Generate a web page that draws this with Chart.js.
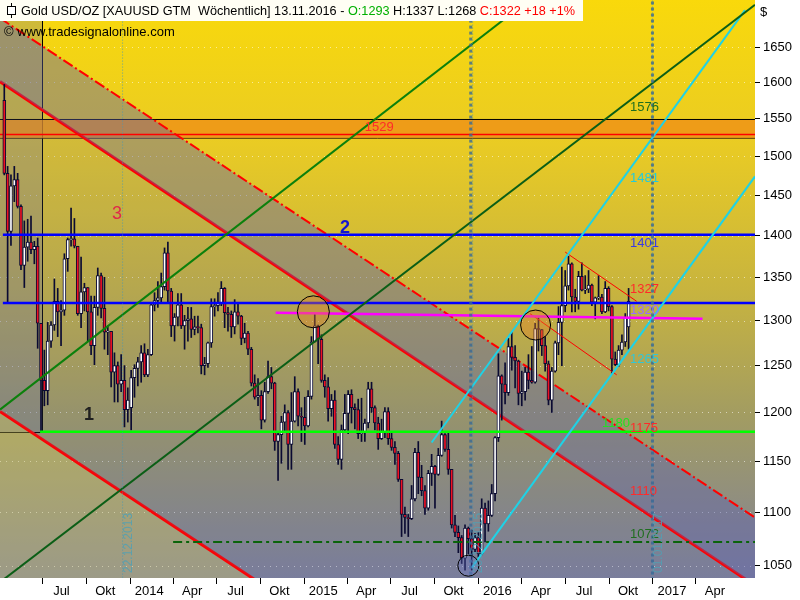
<!DOCTYPE html>
<html>
<head>
<meta charset="utf-8">
<script src="https://cdn.jsdelivr.net/npm/chart.js@4.4.1/dist/chart.umd.min.js"></script>
<style>
  html, body { margin: 0; padding: 0; background: #fff; }
</style>
</head>
<body>
<canvas id="graph" width="800" height="600"></canvas>
<script>
const FONTE = '"Liberation Sans", Arial, sans-serif';
const D0 = Date.UTC(2014, 0, 1);
function dia(s) {
    const p = s.split('-').map(Number);
    return (Date.UTC(p[0], p[1] - 1, p[2]) - D0) / 864e5;
}

// Dados semanais (XAUUSD), primeira vela = semana de 12.04.2013
const firstWeek = '2013-04-12';
const opens = [
    1575,1478,1405,1462,1470,1436,1364,1386,1392,1383,1387,1297,1234,1223,1277,1295,1322,1310,1312,1372,1395,1396,1387,1308,1333,1338,1310,1272,1315,1352,1314,1287,1288,1243,1250,1230,1234,1203,
    1205,1237,1247,1254,1264,1240,1262,1318,1323,1326,1339,1379,1334,1294,1304,1318,1294,1300,1302,1290,1293,1292,1250,1252,1275,1316,1317,1320,1337,1309,1307,1293,1310,1305,1280,1286,1268,1231,1216,1218,1192,1222,1238,1231,1170,1177,1190,1200,1167,1191,1222,1196,
    1195,1186,1217,1276,1294,1279,1234,1227,1204,1213,1167,1152,1182,1199,1219,1205,1203,1178,1179,1189,1225,1205,1189,1173,1180,1201,1173,1164,1158,1132,1098,1095,1094,1113,1159,1134,1121,1104,1138,1145,1137,1156,1177,1162,1142,1088,1081,1076,1057,1085,1075,1065,
    1076,1061,1104,1089,1097,1118,1174,1239,1230,1221,1271,1259,1255,1220,1222,1243,1234,1232,1291,1290,1272,1252,1213,1244,1275,1298,1317,1340,1366,1327,1322,1351,1335,1336,1341,1321,1326,1327,1310,1337,1316,1257,1251,1267,1276,1293
];
const highs = [
    1597,1487,1476,1487,1478,1438,1418,1420,1424,1393,1397,1297,1267,1298,1299,1348,1337,1323,1378,1397,1434,1421,1387,1374,1343,1338,1328,1328,1361,1355,1350,1294,1288,1264,1254,1262,1250,1226,
    1245,1251,1259,1272,1274,1268,1320,1332,1345,1355,1385,1392,1337,1308,1331,1331,1306,1315,1315,1305,1305,1296,1259,1276,1325,1325,1332,1345,1338,1315,1311,1324,1321,1306,1297,1288,1270,1240,1236,1223,1232,1255,1248,1232,1180,1196,1208,1202,1221,1238,1225,1205,
    1216,1223,1282,1307,1295,1284,1240,1237,1219,1223,1175,1187,1219,1223,1224,1209,1214,1215,1193,1232,1232,1207,1195,1193,1205,1205,1180,1170,1160,1132,1105,1098,1126,1163,1170,1146,1126,1141,1157,1146,1163,1191,1178,1180,1142,1097,1087,1078,1088,1086,1083,1080,
    1081,1113,1109,1111,1127,1175,1263,1240,1253,1280,1287,1272,1256,1244,1248,1262,1271,1297,1303,1290,1282,1255,1248,1277,1316,1362,1358,1375,1367,1336,1357,1367,1352,1358,1342,1327,1352,1330,1345,1339,1317,1265,1272,1284,1308,1337
];
const lows = [
    1476,1321,1388,1442,1434,1359,1338,1369,1378,1366,1269,1180,1207,1208,1270,1289,1282,1272,1306,1357,1387,1385,1306,1292,1311,1277,1262,1251,1306,1303,1268,1262,1227,1211,1211,1222,1185,1190,
    1182,1216,1228,1232,1238,1238,1261,1311,1315,1321,1335,1321,1282,1277,1294,1291,1268,1277,1281,1284,1286,1241,1240,1248,1270,1305,1311,1317,1292,1288,1281,1285,1296,1273,1275,1262,1228,1214,1207,1183,1190,1220,1225,1161,1131,1148,1180,1142,1142,1190,1186,1170,
    1167,1185,1214,1276,1252,1232,1216,1191,1196,1163,1147,1142,1180,1178,1189,1183,1173,1170,1170,1184,1200,1182,1162,1172,1174,1167,1161,1147,1130,1077,1080,1077,1093,1111,1118,1116,1098,1102,1126,1104,1136,1155,1160,1137,1085,1077,1062,1052,1046,1061,1046,1063,
    1058,1060,1072,1082,1096,1111,1170,1192,1209,1218,1245,1226,1208,1207,1213,1225,1231,1231,1266,1261,1244,1208,1200,1243,1262,1250,1310,1335,1310,1310,1313,1334,1331,1332,1317,1302,1324,1308,1309,1311,1241,1250,1249,1262,1271,1268
];
const closes = [
    1478,1405,1462,1470,1436,1364,1386,1392,1383,1387,1297,1234,1223,1277,1295,1322,1310,1312,1372,1395,1396,1387,1308,1333,1338,1310,1272,1315,1352,1314,1287,1288,1243,1250,1230,1234,1203,1213,
    1237,1247,1254,1264,1240,1262,1318,1323,1326,1339,1379,1334,1294,1304,1318,1294,1300,1302,1290,1293,1292,1250,1252,1275,1316,1317,1320,1337,1309,1307,1293,1310,1305,1280,1286,1268,1231,1216,1218,1192,1222,1238,1231,1170,1177,1190,1200,1167,1191,1222,1196,1195,
    1186,1217,1276,1294,1279,1234,1227,1204,1213,1167,1152,1182,1199,1219,1205,1203,1178,1179,1189,1225,1205,1189,1173,1180,1201,1173,1164,1158,1132,1098,1095,1094,1113,1159,1134,1121,1104,1138,1145,1137,1156,1177,1162,1142,1088,1081,1076,1057,1085,1075,1065,1076,
    1061,1104,1089,1097,1118,1174,1239,1230,1221,1271,1259,1255,1220,1222,1243,1234,1232,1291,1290,1272,1252,1213,1244,1275,1298,1317,1340,1366,1327,1322,1351,1335,1336,1341,1321,1326,1327,1310,1337,1316,1257,1251,1267,1276,1304,1322
];

// Eixos
const xStart = '2013-04-03';
const xEnd = '2017-08-03';
const tickDates = ['2013-07-01','2013-10-01','2014-01-01','2014-04-01','2014-07-01','2014-10-01','2015-01-01','2015-04-01',
                   '2015-07-01','2015-10-01','2016-01-01','2016-04-01','2016-07-01','2016-10-01','2017-01-01','2017-04-01'];
const tickLabels = ['Jul','Okt','2014','Apr','Jul','Okt','2015','Apr','Jul','Okt','2016','Apr','Jul','Okt','2017','Apr'];
const yTicks = [1050,1100,1150,1200,1250,1300,1350,1400,1450,1500,1550,1600,1650];
const yMin = 1038.8, yMax = 1719;

// Linhas desenhadas (data, preço)
const redDashDot = [[xStart, 1692], [xEnd, 1095]];
const redUpper = [[xStart, 1601], [xEnd, 1032]];
const redLower = [[xStart, 1201], [xEnd, 778]];
const greenUpper = [[xStart, 1203], [xEnd, 2002]];
const greenLower = [[xStart, 1035], [xEnd, 1712]];
const cyanUpper = [['2015-09-25', 1169], ['2017-07-13', 1704]];
const cyanLower = [['2015-12-18', 1048], [xEnd, 1474]];
const thinRedA = [['2016-07-01', 1380], ['2016-11-28', 1322]];
const thinRedB = [['2016-04-18', 1308], ['2016-10-17', 1240]];
const magenta = [['2014-11-02', 1309], ['2017-04-15', 1302]];
const level1401 = [['2013-04-09', 1401], [xEnd, 1401]];
const level1320 = [['2013-04-09', 1320], [xEnd, 1320]];
const band1549 = [[xStart, 1549], [xEnd, 1549]];
const band1524 = [[xStart, 1524], [xEnd, 1524]];
const level1529 = [[xStart, 1529], [xEnd, 1529]];
const level1180 = [['2013-06-26', 1180], [xEnd, 1180]];
const level1072 = [['2014-04-01', 1072], [xEnd, 1072]];
const dashedDates = ['2015-12-16', '2016-12-31'];
const dottedDates = ['2013-12-16', '2015-12-20', '2016-12-31'];
const dottedTexts = ['22.12.2013', '20.12.2015', '01.01.2017'];
const boxRange = [xStart, '2013-07-01', 1180];

// Círculos
const circleDates = ['2015-01-20', '2016-04-30', '2015-12-11'];
const circlePrices = [1310, 1295, 1050];
const circleRadius = [16, 15, 10.5];

// Rótulos no gráfico
const notas = [
    { t: '1576', d: '2016-11-14', p: 1565, c: '#1f6e1f' },
    { t: '1529', d: '2015-05-08', p: 1539, c: '#ff2a2a' },
    { t: '1481', d: '2016-11-14', p: 1471, c: '#22cadc' },
    { t: '1401', d: '2016-11-14', p: 1391, c: '#3a3ae6' },
    { t: '1327', d: '2016-11-14', p: 1336, c: '#ff2a2a' },
    { t: '1320', d: '2016-11-14', p: 1312, c: '#9a6cff' },
    { t: '1265', d: '2016-11-14', p: 1257, c: '#30c6d8' },
    { t: '1180', d: '2016-09-16', p: 1189, c: '#22e022' },
    { t: '1175', d: '2016-11-14', p: 1183, c: '#ff2a2a' },
    { t: '1110', d: '2016-11-14', p: 1120, c: '#ff2a2a' },
    { t: '1072', d: '2016-11-14', p: 1079, c: '#1f6e1f' },
    { t: '1', d: '2013-09-26', p: 1197, c: '#202020', f: 'bold 18px ' + FONTE },
    { t: '2', d: '2015-03-17', p: 1409, c: '#1414d2', f: 'bold 18px ' + FONTE },
    { t: '3', d: '2013-11-24', p: 1426, c: '#e0284a', f: '18px ' + FONTE }
];

function pts(arr) { return arr.map(p => ({ x: dia(p[0]), y: p[1] })); }
function linha(arr, cor, largura, extra) {
    return Object.assign({
        type: 'line', data: pts(arr), borderColor: cor, borderWidth: largura,
        pointRadius: 0, fill: false, tension: 0, order: 15
    }, extra || {});
}
function semPadding(s) {
    s.paddingTop = 0; s.paddingBottom = 0; s.paddingLeft = 0; s.paddingRight = 0;
}

const candleDays = opens.map((_, i) => dia(firstWeek) + 7 * i);

const datasets = [];
// Faixa laranja
datasets.push(linha(band1549, '#000', 1, { fill: 1, backgroundColor: 'rgba(238,142,22,0.78)', order: 60 }));
datasets.push(linha(band1524, '#000', 1, { order: 60 }));
// Canal vermelho
datasets.push(linha(redDashDot, '#ff0000', 2, { borderDash: [11, 3, 2, 3], fill: 3, backgroundColor: 'rgba(90,95,175,0.42)', order: 54 }));
datasets.push(linha(redUpper, '#ff0000', 3, { fill: 4, backgroundColor: 'rgba(90,100,170,0.16)', order: 56 }));
datasets.push(linha(redLower, '#ff0000', 3, { fill: 'start', backgroundColor: 'rgba(215,205,95,0.32)', order: 58 }));
// Linhas
datasets.push(linha(level1529, '#ff0000', 1.5, { order: 50 }));
datasets.push(linha(greenUpper, '#0c800c', 2));
datasets.push(linha(greenLower, '#0b5e16', 2));
datasets.push(linha(cyanUpper, '#1ed2e6', 2));
datasets.push(linha(cyanLower, '#1ed2e6', 2));
datasets.push(linha(level1401, '#0000ff', 2.5));
datasets.push(linha(level1320, '#0000ff', 2.5));
datasets.push(linha(level1180, '#00ff00', 2.5));
datasets.push(linha(level1072, '#0a640a', 2, { borderDash: [9, 4, 3, 4] }));
datasets.push(linha(magenta, '#ff00ff', 2.5));
datasets.push(linha(thinRedA, '#ff0000', 1));
datasets.push(linha(thinRedB, '#ff0000', 1));
dashedDates.forEach(d => datasets.push(linha([[d, 900], [d, 1900]], 'rgba(55,105,150,0.8)', 3, { borderDash: [3, 3], order: 14 })));
dottedDates.forEach(d => datasets.push(linha([[d, 900], [d, 1900]], 'rgba(70,150,180,0.8)', 1, { borderDash: [1, 2], order: 14 })));
// Velas
datasets.push({
    type: 'bar', grouped: false, order: 21, barThickness: 1,
    data: candleDays.map((d, i) => ({ x: d, y: [lows[i], highs[i]] })),
    backgroundColor: '#0a0a32', borderWidth: 0
});
datasets.push({
    type: 'bar', grouped: false, order: 20, barThickness: 3, minBarLength: 1,
    data: candleDays.map((d, i) => ({ x: d, y: [Math.min(opens[i], closes[i]), Math.max(opens[i], closes[i])] })),
    backgroundColor: candleDays.map((d, i) => closes[i] >= opens[i] ? '#ffffff' : '#ee1122'),
    borderColor: '#0a0a32', borderWidth: 1, borderSkipped: false
});
// Círculos
datasets.push({
    type: 'bubble', order: 5,
    data: circleDates.map((d, i) => ({ x: dia(d), y: circlePrices[i], r: circleRadius[i] })),
    backgroundColor: ['rgba(225,130,40,0.4)', 'rgba(225,130,40,0.4)', 'rgba(110,120,210,0.3)'],
    borderColor: '#000', borderWidth: 1
});

const desenho = {
    id: 'desenho',
    beforeDraw(chart) {
        const { ctx, chartArea: a, scales: { y } } = chart;
        const g = ctx.createLinearGradient(0, a.top, 0, a.bottom);
        g.addColorStop(0, '#f9d90b');
        g.addColorStop(0.25, '#e9cb24');
        g.addColorStop(0.5, '#c8b43e');
        g.addColorStop(0.72, '#a29c62');
        g.addColorStop(1, '#80829a');
        ctx.save();
        ctx.fillStyle = g;
        ctx.fillRect(a.left, a.top, a.right - a.left, a.bottom - a.top);
        ctx.setLineDash([1, 5]);
        ctx.strokeStyle = 'rgba(255,255,255,0.55)';
        ctx.lineWidth = 1;
        yTicks.forEach(v => {
            const py = Math.round(y.getPixelForValue(v)) + 0.5;
            ctx.beginPath(); ctx.moveTo(a.left, py); ctx.lineTo(a.right, py); ctx.stroke();
        });
        ctx.restore();
    },
    beforeDatasetsDraw(chart) {
        const { ctx, chartArea: a, scales: { x, y } } = chart;
        const x0 = x.getPixelForValue(dia(boxRange[0]));
        const x1 = Math.round(x.getPixelForValue(dia(boxRange[1]))) + 0.5;
        const y1 = Math.round(y.getPixelForValue(boxRange[2])) + 0.5;
        ctx.save();
        ctx.fillStyle = 'rgba(105,110,165,0.28)';
        ctx.fillRect(x0, a.top, x1 - x0, y1 - a.top);
        ctx.strokeStyle = '#000'; ctx.lineWidth = 1;
        ctx.beginPath(); ctx.moveTo(x0, y1); ctx.lineTo(x1, y1); ctx.lineTo(x1, a.top); ctx.stroke();
        ctx.restore();
    },
    afterDatasetsDraw(chart) {
        const { ctx, chartArea: a, scales: { x, y } } = chart;
        ctx.save();
        ctx.textBaseline = 'middle';
        notas.forEach(n => {
            ctx.font = n.f || ('13px ' + FONTE);
            ctx.fillStyle = n.c;
            ctx.fillText(n.t, x.getPixelForValue(dia(n.d)), y.getPixelForValue(n.p));
        });
        ctx.font = '12px ' + FONTE;
        ctx.fillStyle = 'rgba(80,160,180,0.85)';
        dottedDates.forEach((d, i) => {
            ctx.save();
            ctx.translate(x.getPixelForValue(dia(d)) + 6, a.bottom - 5);
            ctx.rotate(-Math.PI / 2);
            ctx.fillText(dottedTexts[i], 0, 0);
            ctx.restore();
        });
        ctx.restore();
    },
    afterDraw(chart) {
        const ctx = chart.ctx;
        ctx.save();
        ctx.fillStyle = '#fffef4';
        ctx.fillRect(0, 0, 583, 21);
        // ícone
        ctx.strokeStyle = '#000'; ctx.lineWidth = 1;
        ctx.beginPath(); ctx.moveTo(11.5, 3); ctx.lineTo(11.5, 18); ctx.stroke();
        ctx.fillStyle = '#fff';
        ctx.fillRect(7.5, 6.5, 8, 8); ctx.strokeRect(7.5, 6.5, 8, 8);
        ctx.font = '12.7px ' + FONTE;
        ctx.textBaseline = 'middle';
        let px = 21;
        [['Gold USD/OZ [XAUUSD GTM  Wöchentlich] 13.11.2016 - ', '#000'],
         ['O:1293 ', '#00b000'], ['H:1337 L:1268 ', '#000'], ['C:1322 +18 +1%', '#ff0000']].forEach(r => {
            ctx.fillStyle = r[1];
            ctx.fillText(r[0], px, 11);
            px += ctx.measureText(r[0]).width;
        });
        ctx.fillStyle = '#000';
        ctx.font = '13px ' + FONTE;
        ctx.fillText('© www.tradesignalonline.com', 4, 32);
        ctx.fillText('$', 760, 12);
        ctx.restore();
    }
};

const config = {
    type: 'bar',
    data: { datasets: datasets },
    options: {
        responsive: false,
        animation: false,
        events: [],
        devicePixelRatio: 1,
        layout: { padding: 0, autoPadding: false },
        plugins: { legend: { display: false }, tooltip: { enabled: false } },
        scales: {
            x: {
                type: 'linear', offset: false, min: dia(xStart), max: dia(xEnd),
                afterBuildTicks: s => { s.ticks = tickDates.map(d => ({ value: dia(d) })); },
                afterFit: s => { s.height = 22; semPadding(s); },
                grid: { offset: false, drawOnChartArea: false, drawTicks: true, tickLength: 6, color: '#000' },
                border: { display: false },
                ticks: {
                    autoSkip: false, maxRotation: 0, labelOffset: 19, padding: 0, color: '#000',
                    font: { family: FONTE, size: 13 },
                    callback: v => { const i = tickDates.findIndex(d => dia(d) === v); return i >= 0 ? tickLabels[i] : ''; }
                }
            },
            y: {
                type: 'logarithmic', position: 'right', min: yMin, max: yMax,
                afterBuildTicks: s => { s.ticks = yTicks.map(v => ({ value: v })); },
                afterFit: s => { s.width = 45; semPadding(s); },
                grid: { drawOnChartArea: false, drawTicks: true, tickLength: 5, color: '#000' },
                border: { display: false },
                ticks: { padding: 3, color: '#000', font: { family: FONTE, size: 13 }, callback: v => String(v) }
            }
        }
    },
    plugins: [desenho]
};

const myChart = new Chart(document.getElementById('graph').getContext('2d'), config);
</script>
</body>
</html>
